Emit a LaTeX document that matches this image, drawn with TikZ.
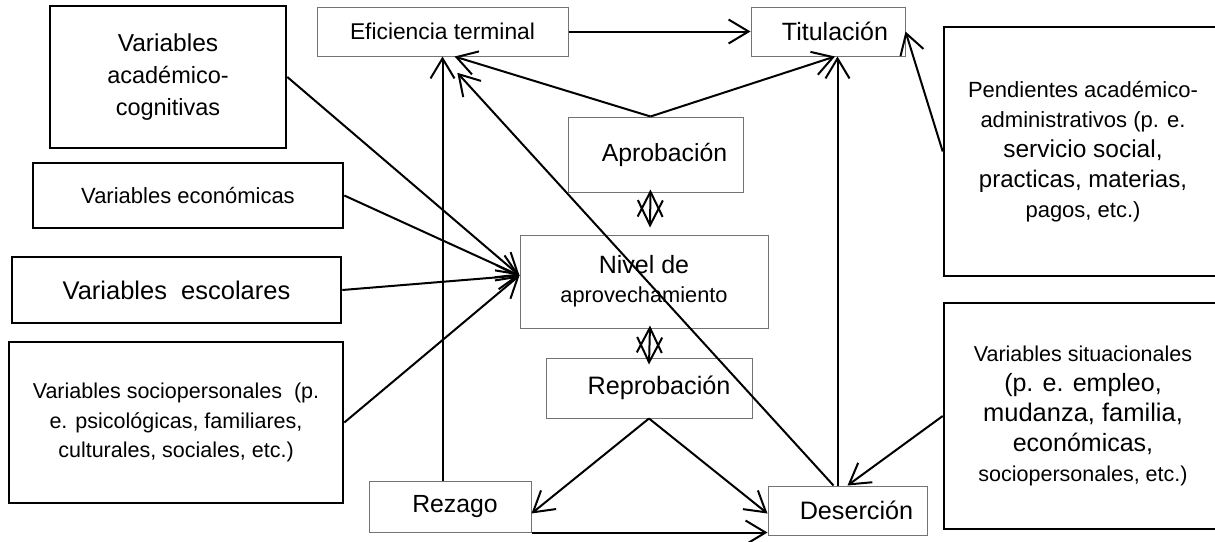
\documentclass[tikz,border=0pt]{standalone}
\usepackage{fontspec}
\setmainfont{Liberation Sans}
\usetikzlibrary{arrows.meta}
\newcommand\fsz[2]{\fontsize{#1}{#2}\selectfont}

\begin{document}
\begin{tikzpicture}[x=1pt,y=-1pt]
    \tikzstyle{box}=[rectangle,inner sep=0pt,align=center]
    \tikzstyle{thinbox}=[box,draw=black!55,line width=1pt]
    \tikzstyle{thickbox}=[box,draw,line width=2.6pt]
    \tikzstyle{arr}=[-{Straight Barb[length=20pt,width=24pt]},line width=2pt]
    \tikzstyle{dbl}=[{Straight Barb[length=25pt,width=25pt]}-{Straight Barb[length=25pt,width=25pt]},line width=2pt]
    \useasboundingbox (0,0) rectangle (1215,541);
    % left column
    \node[thickbox,minimum width=236pt,minimum height=142pt,font=\fsz{23.5}{32}] (acad) at (168,77) {{\fsz{24.5}{32}Variables}\\académico-\\cognitivas};
    \node[thickbox,minimum width=310pt,minimum height=65pt,font=\fsz{22}{25}] (econ) at (188,195.5) {Variables económicas};
    \node[thickbox,minimum width=329pt,minimum height=66pt,font=\fsz{25.5}{30}] (escol) at (176.5,290) {Variables\ \ escolares};
    \node[thickbox,minimum width=334pt,minimum height=161pt,font=\fsz{21.5}{29.5}] (socio) at (176,422.5) {Variables sociopersonales\ \ (p.\\e. psicológicas, familiares,\\culturales, sociales,\ etc.)};
    % middle
    \node[thinbox,minimum width=251pt,minimum height=49pt,font=\fsz{22.8}{25}] (efic) at (442.5,31.5) {Eficiencia terminal};
    \node[thinbox,minimum width=154pt,minimum height=49pt,font=\fsz{25}{28}] (titu) at (828,31.5) {\hspace*{14pt}Titulación};
    \node[thinbox,minimum width=175pt,minimum height=75pt,font=\fsz{24.8}{28}] (apro) at (655.5,154.5) {\hspace*{18pt}Aprobación};
    \node[thinbox,minimum width=248pt,minimum height=93pt,font=\fsz{21.8}{29}] (nivel) at (644,281.5) {{\fsz{25}{29}Nivel de}\\aprovechamiento};
    \node[thinbox,minimum width=206pt,minimum height=60pt,font=\fsz{25.2}{28}] (repro) at (649,388) {\hspace*{20pt}Reprobación};
    \node[thinbox,minimum width=162pt,minimum height=51pt,font=\fsz{24.8}{28}] (rezago) at (450,506.5) {\hspace*{10pt}Rezago};
    \node[thinbox,minimum width=159pt,minimum height=49pt,font=\fsz{25.2}{28}] (deser) at (847.5,510.5) {\hspace*{18pt}Deserción};
    % right column
    \node[thickbox,minimum width=278pt,minimum height=249pt,font=\fsz{22}{30}] (pend) at (1083,151.5) {Pendientes académico-\\administrativos (p. e.\\{\fsz{24.5}{30}servicio social,}\\{\fsz{24}{30}practicas, materias,}\\pagos, etc.)};
    \node[thickbox,minimum width=278pt,minimum height=226pt,font=\fsz{21.5}{30}] (situ) at (1083,416) {Variables situacionales\\{\fsz{25}{30}(p. e. empleo,}\\{\fsz{25.5}{30}mudanza, familia,}\\{\fsz{25}{30}económicas,}\\sociopersonales, etc.)};
    % connectors
    \foreach \v in {acad,econ,escol,socio}
      \draw[arr] (\v.east) -- ([yshift=6pt]nivel.west);
    \draw[arr] (efic.east) -- (titu.west);
    \draw[arr] ([xshift=-5pt]apro.north) -- ([xshift=12pt]efic.south);
    \draw[arr] ([xshift=-5pt]apro.north) -- ([xshift=7pt]titu.south);
    \draw[dbl] ([xshift=-5pt,yshift=3pt]apro.south) -- ([xshift=6pt,yshift=7pt]nivel.north);
    \draw[dbl] ([xshift=6pt,yshift=3pt]nivel.south) -- ([yshift=-7pt]repro.north);
    \draw[arr] (repro.south) -- ([yshift=-7pt]rezago.east);
    \draw[arr] (repro.south) -- ([yshift=-3pt]deser.west);
    \draw[arr] (rezago.south east) -- (rezago.south east -| deser.west);
    \draw[arr] (efic.south |- rezago.north) -- (efic.south);
    \draw[arr] ([xshift=-10pt]deser.north) -- ([xshift=-10pt]deser.north |- titu.south);
    \draw[arr,shorten >=22pt] ([xshift=-14pt]deser.north) -- (efic.south);
    \draw[arr] (pend.west) -- (titu.east);
    \draw[arr] (situ.west) -- (deser.north);
\end{tikzpicture}
\end{document}
